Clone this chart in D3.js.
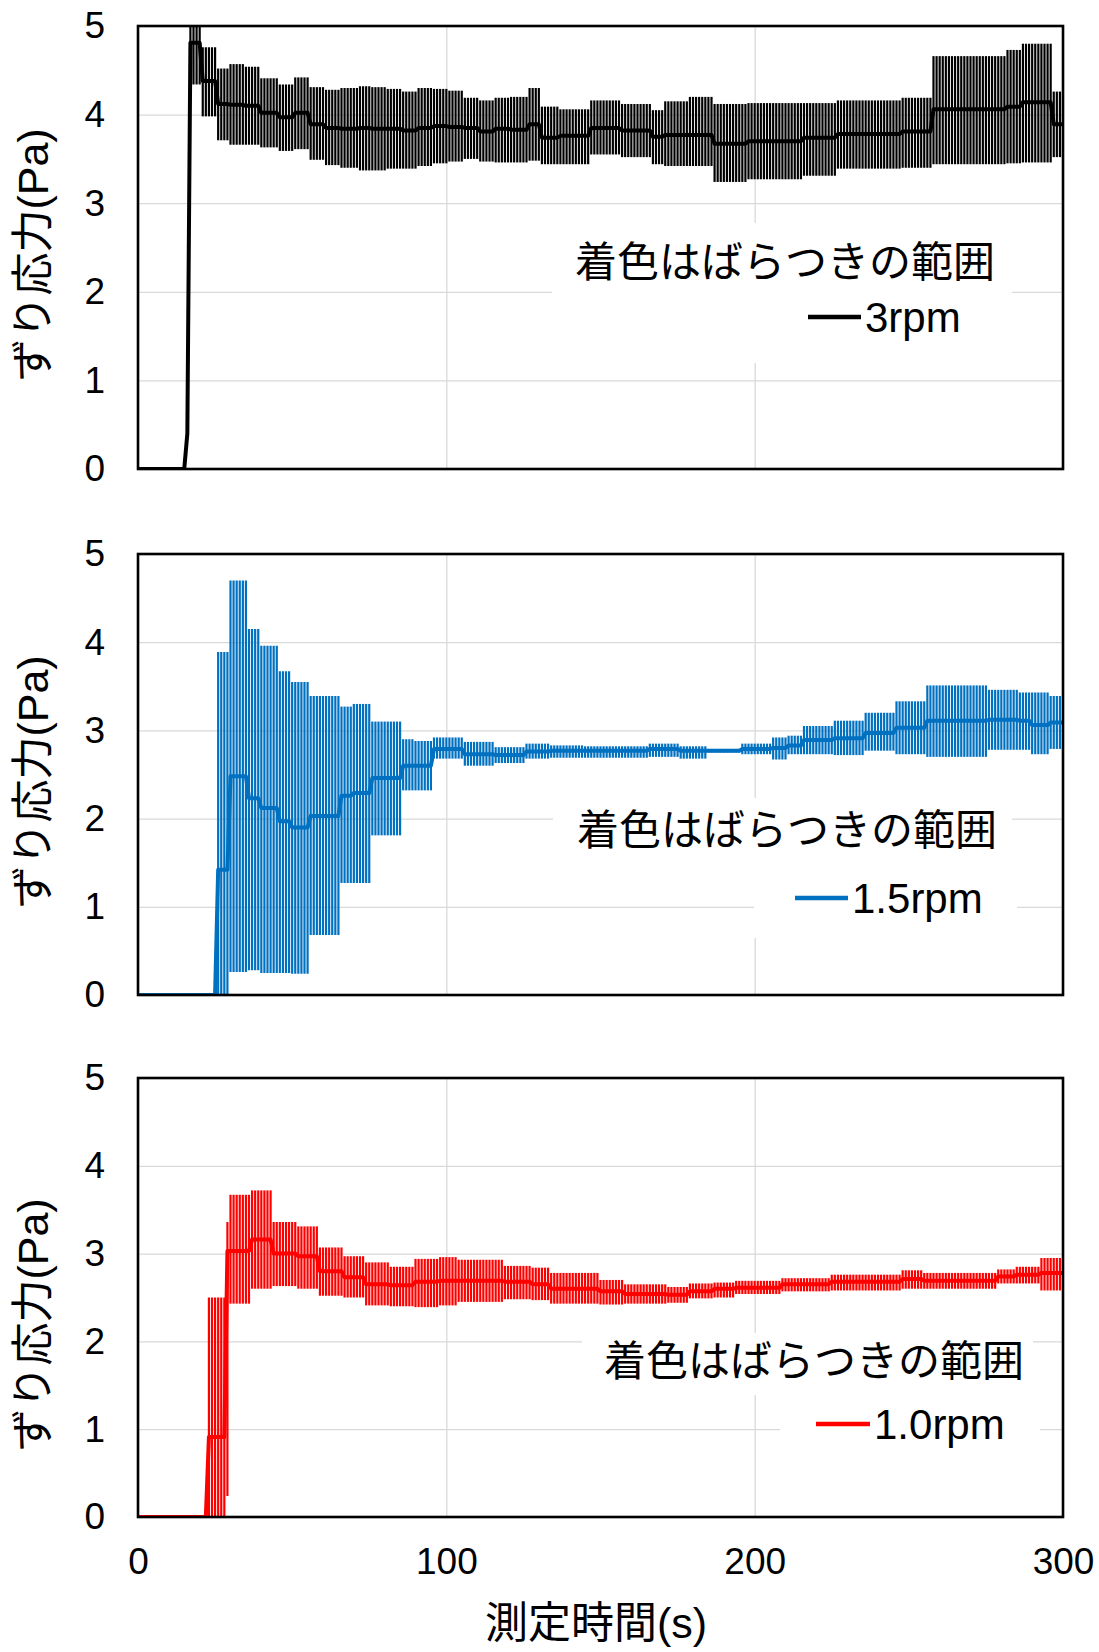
<!DOCTYPE html>
<html>
<head>
<meta charset="utf-8">
<script src="https://cdn.jsdelivr.net/npm/d3@7"></script>
<style>
  body { margin: 0; background: #fff; }
  svg { display: block; }
  text { font-family: "Liberation Sans", Arial, "Noto Sans CJK JP", sans-serif; fill: #000; }
</style>
</head>
<body>
<div id="chart"></div>
<script>
// step tables: start second, mean, lower, upper
var t3 = [0, 16, 17, 21, 26, 30, 35, 40, 46, 51, 56, 61, 66, 72, 76, 81, 86, 91, 96, 101, 106, 111, 116, 121, 127, 131, 137, 147, 157, 167, 171, 179, 187, 198, 216, 227, 248, 258, 282, 287, 297];
var mean3 = [0, 0.4, 4.81, 4.38, 4.12, 4.11, 4.10, 4.02, 3.97, 4.02, 3.89, 3.85, 3.84, 3.85, 3.84, 3.84, 3.82, 3.85, 3.87, 3.86, 3.85, 3.81, 3.84, 3.83, 3.89, 3.74, 3.76, 3.85, 3.82, 3.75, 3.77, 3.77, 3.67, 3.70, 3.74, 3.78, 3.81, 4.06, 4.09, 4.14, 3.89];
var lo3 = [0, 0.4, 4.34, 3.98, 3.71, 3.66, 3.66, 3.63, 3.59, 3.61, 3.49, 3.43, 3.40, 3.37, 3.37, 3.39, 3.39, 3.42, 3.45, 3.47, 3.50, 3.47, 3.46, 3.46, 3.48, 3.44, 3.44, 3.55, 3.52, 3.44, 3.42, 3.42, 3.24, 3.27, 3.31, 3.39, 3.40, 3.44, 3.45, 3.46, 3.52];
var hi3 = [0, 0.4, 5.30, 4.76, 4.52, 4.57, 4.54, 4.41, 4.34, 4.42, 4.31, 4.28, 4.30, 4.32, 4.31, 4.29, 4.26, 4.30, 4.29, 4.27, 4.19, 4.16, 4.19, 4.20, 4.30, 4.09, 4.06, 4.16, 4.12, 4.05, 4.15, 4.20, 4.12, 4.13, 4.13, 4.16, 4.19, 4.66, 4.73, 4.80, 4.26];

var t15 = [0, 26, 30, 36, 40, 46, 50, 56, 66, 70, 76, 86, 90, 96, 106, 116, 126, 134, 145, 166, 176, 185, 196, 206, 211, 216, 226, 236, 246, 256, 276, 286, 290, 296];
var mean15 = [0, 1.42, 2.48, 2.23, 2.12, 1.97, 1.90, 2.03, 2.26, 2.29, 2.46, 2.60, 2.60, 2.79, 2.73, 2.72, 2.76, 2.77, 2.77, 2.79, 2.77, 2.77, 2.79, 2.80, 2.83, 2.89, 2.91, 2.97, 3.03, 3.11, 3.12, 3.11, 3.06, 3.09];
var lo15 = [0, 0, 0.26, 0.28, 0.25, 0.25, 0.24, 0.68, 1.27, 1.27, 1.81, 2.32, 2.32, 2.68, 2.60, 2.63, 2.68, 2.69, 2.69, 2.70, 2.68, 2.75, 2.73, 2.67, 2.73, 2.73, 2.72, 2.77, 2.73, 2.70, 2.78, 2.78, 2.73, 2.79];
var hi15 = [0, 3.89, 4.70, 4.15, 3.96, 3.67, 3.55, 3.39, 3.27, 3.30, 3.10, 2.90, 2.88, 2.92, 2.87, 2.81, 2.85, 2.83, 2.82, 2.85, 2.82, 2.79, 2.85, 2.92, 2.94, 3.05, 3.11, 3.20, 3.33, 3.51, 3.46, 3.43, 3.43, 3.39];

var t10 = [0, 23, 29, 30, 37, 44, 52, 59, 67, 74, 82, 90, 98, 104, 119, 128, 134, 150, 158, 172, 179, 187, 194, 209, 225, 248, 255, 279, 285, 293];
var mean10 = [0, 0.91, 3.03, 3.03, 3.16, 3.00, 2.97, 2.80, 2.73, 2.65, 2.64, 2.68, 2.69, 2.69, 2.68, 2.65, 2.60, 2.57, 2.54, 2.53, 2.57, 2.60, 2.61, 2.65, 2.68, 2.71, 2.69, 2.74, 2.76, 2.78];
var lo10 = [0, 0, 0.24, 2.43, 2.60, 2.63, 2.60, 2.52, 2.50, 2.41, 2.40, 2.39, 2.41, 2.45, 2.48, 2.47, 2.43, 2.42, 2.43, 2.44, 2.49, 2.50, 2.54, 2.57, 2.58, 2.60, 2.60, 2.66, 2.66, 2.58];
var hi10 = [0, 2.50, 3.36, 3.67, 3.72, 3.36, 3.31, 3.07, 2.97, 2.90, 2.85, 2.94, 2.96, 2.93, 2.86, 2.84, 2.78, 2.70, 2.65, 2.62, 2.66, 2.67, 2.69, 2.72, 2.76, 2.81, 2.78, 2.82, 2.85, 2.95];

var seriesNames = ["3rpm", "1.5rpm", "1.0rpm"];
var noteText = "着色はばらつきの範囲";
var yTicks = [0, 1, 2, 3, 4, 5];
var xTicks = [0, 100, 200, 300];
var yTitle = "ずり応力(Pa)";
var xTitle = "測定時間(s)";

// one sample per second, value held over each step
function samples(st, m, lo, hi) {
	var out = [];
	var k = 0;
	for (var s = 0; s <= 300; s++) {
		while (k + 1 < st.length && st[k + 1] <= s) k++;
		out.push({t: s, m: m[k], lo: lo[k], hi: hi[k]});
	}
	return out;
}

var panels = [
	{data: samples(t3, mean3, lo3, hi3), name: seriesNames[0], color: "#000000", top: 26, bottom: 469,
	 note: [785, 262], leg: [808, 861, 317], ylab: 255, boxes: [[552, 223, 1012, 300], [740, 300, 1010, 363]]},
	{data: samples(t15, mean15, lo15, hi15), name: seriesNames[1], color: "#0070C0", top: 554, bottom: 995,
	 note: [787, 830], leg: [795, 848, 898], ylab: 782, boxes: [[553, 798, 1012, 870], [754, 870, 1017, 938]]},
	{data: samples(t10, mean10, lo10, hi10), name: seriesNames[2], color: "#FF0000", top: 1078, bottom: 1517,
	 note: [814, 1361], leg: [816, 870, 1424], ylab: 1325, boxes: [[582, 1333, 1033, 1395], [780, 1395, 1040, 1449]]}
];

var W = 1099, H = 1652;
var left = 138, right = 1063;

var svg = d3.select("#chart").append("svg").attr("width", W).attr("height", H);
var x = d3.scaleLinear().domain([0, 300]).range([left, right]);

panels.forEach(function(p, i) {
	var y = d3.scaleLinear().domain([0, 5]).range([p.bottom, p.top]);
	var g = svg.append("g");

	g.append("clipPath").attr("id", "clip" + i)
		.append("rect").attr("x", left).attr("y", p.top)
		.attr("width", right - left).attr("height", p.bottom - p.top);

	// grid
	g.append("g").attr("transform", "translate(0," + p.bottom + ")")
		.call(d3.axisBottom(x).tickValues(xTicks).tickSize(-(p.bottom - p.top)).tickFormat(""))
		.call(function(a) { a.select(".domain").remove(); })
		.selectAll("line").attr("stroke", "#d9d9d9").attr("stroke-width", 1.3);
	g.append("g").attr("transform", "translate(" + left + ",0)")
		.call(d3.axisLeft(y).tickValues(yTicks).tickSize(-(right - left)).tickFormat(""))
		.call(function(a) { a.select(".domain").remove(); })
		.selectAll("line").attr("stroke", "#d9d9d9").attr("stroke-width", 1.3);

	// white boxes behind note and legend
	g.selectAll("rect.box").data(p.boxes).enter().append("rect")
		.attr("x", function(b) { return b[0]; })
		.attr("y", function(b) { return b[1]; })
		.attr("width", function(b) { return b[2] - b[0]; })
		.attr("height", function(b) { return b[3] - b[1]; })
		.attr("fill", "#fff");

	g.append("text").attr("x", p.note[0]).attr("y", p.note[1])
		.attr("text-anchor", "middle").attr("dominant-baseline", "central")
		.style("font-size", "42px").text(noteText);

	g.append("line").attr("x1", p.leg[0]).attr("x2", p.leg[1])
		.attr("y1", p.leg[2]).attr("y2", p.leg[2])
		.attr("stroke", p.color).attr("stroke-width", 4.5);
	g.append("text").attr("x", p.leg[1] + 4).attr("y", p.leg[2] + 15)
		.style("font-size", "42px").text(p.name);

	// error bars and mean line
	var d = g.append("g").attr("clip-path", "url(#clip" + i + ")");
	d.selectAll("line.bar")
		.data(p.data.filter(function(s) { return s.hi > s.lo; }))
		.enter().append("line")
		.attr("x1", function(s) { return x(s.t); })
		.attr("x2", function(s) { return x(s.t); })
		.attr("y1", function(s) { return y(s.lo); })
		.attr("y2", function(s) { return y(s.hi); })
		.attr("stroke", p.color).attr("stroke-width", 2.2);
	d.append("path").datum(p.data)
		.attr("d", d3.line().x(function(s) { return x(s.t); }).y(function(s) { return y(s.m); }))
		.attr("fill", "none").attr("stroke", p.color).attr("stroke-width", 4)
		.attr("stroke-linejoin", "round");

	// frame
	g.append("rect").attr("x", left).attr("y", p.top)
		.attr("width", right - left).attr("height", p.bottom - p.top)
		.attr("fill", "none").attr("stroke", "#000").attr("stroke-width", 2.6);

	// y ticks
	var ya = g.append("g").attr("transform", "translate(" + left + ",0)")
		.call(d3.axisLeft(y).tickValues(yTicks).tickSize(0).tickPadding(33).tickFormat(d3.format("d")));
	ya.select(".domain").remove();
	ya.selectAll("text").style("font-size", "37px").attr("font-family", null);

	g.append("text")
		.attr("transform", "translate(33," + p.ylab + ") rotate(-90)")
		.attr("text-anchor", "middle").attr("dominant-baseline", "central")
		.style("font-size", "43px").text(yTitle);

	if (i == 2) {
		var xa = g.append("g").attr("transform", "translate(0," + p.bottom + ")")
			.call(d3.axisBottom(x).tickValues(xTicks).tickSize(0));
		xa.select(".domain").remove();
		xa.selectAll("text").attr("y", 44).attr("dy", "0.35em").style("font-size", "37px").attr("font-family", null);
		g.append("text").attr("x", 596).attr("y", 1623)
			.attr("text-anchor", "middle").attr("dominant-baseline", "central")
			.style("font-size", "43px").text(xTitle);
	}
});
</script>
</body>
</html>
